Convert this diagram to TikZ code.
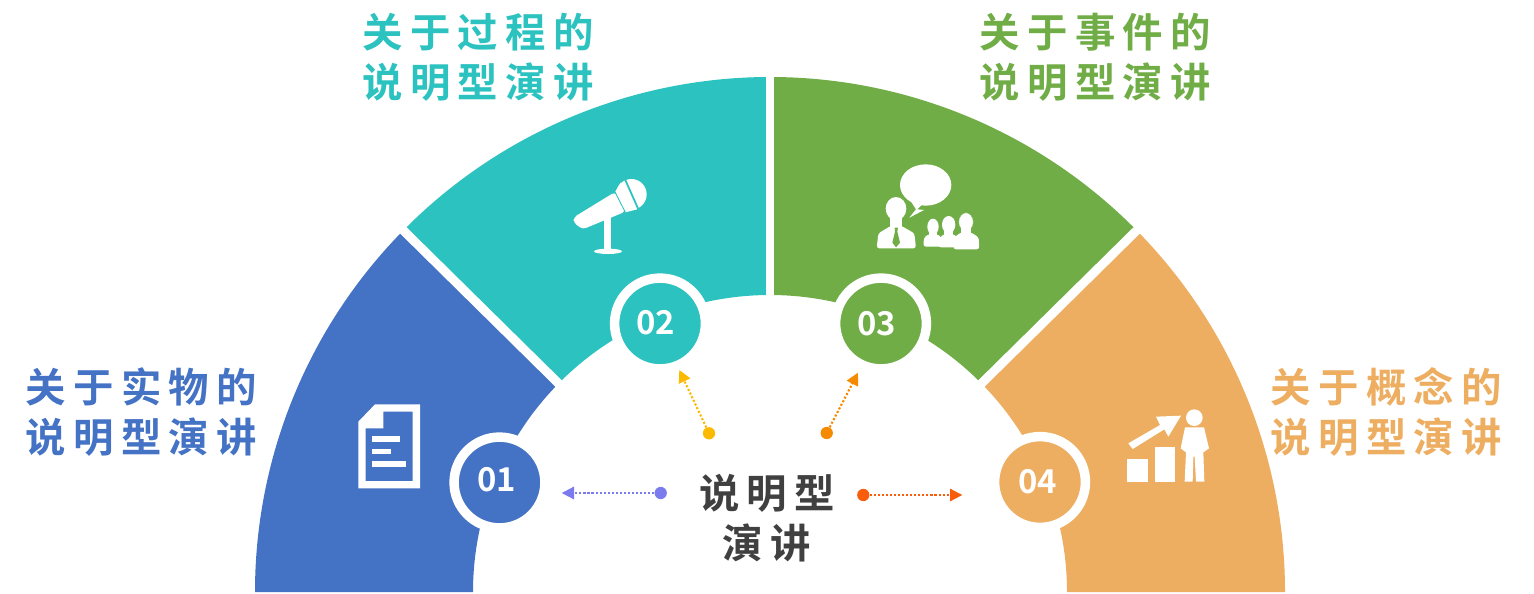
\documentclass[tikz,border=0pt]{standalone}
\usepackage{fontspec}
\usepackage{xcolor}
\usetikzlibrary{arrows.meta}
\newfontfamily\cjkwide[LetterSpace=18,BoldFont=*]{Noto Sans CJK SC Bold}
\newfontfamily\cjknum{Noto Sans CJK SC Bold}
\definecolor{partblue}{HTML}{4472C4}
\definecolor{partteal}{HTML}{2CC2BF}
\definecolor{partgreen}{HTML}{70AD47}
\definecolor{partorange}{HTML}{EDAE61}
\definecolor{dotviolet}{HTML}{7B7BEE}
\definecolor{dotyellow}{HTML}{FBB900}
\definecolor{dotorange}{HTML}{F58A00}
\definecolor{dotred}{HTML}{F95C0A}
\definecolor{titlegray}{HTML}{404040}
\tikzset{
	parttext/.style={align=center,inner sep=0pt,font=\fontsize{23pt}{28.45pt}\selectfont\cjkwide},
	numdisc/.style={circle,draw=white,line width=5.4pt,minimum size=51.7pt,inner sep=0pt,text=white,font=\fontsize{18.7pt}{22pt}\selectfont\cjknum},
	startdot/.style={circle,minimum size=7pt,inner sep=0pt},
	pointer/.style={dash pattern=on 1.2pt off 1.1pt,line width=1.2pt,-{Triangle[length=7pt,width=7pt]}},
	gapline/.style={white,line width=5.1pt},
	zoomed/.style={x=0.00667cm,y=-0.00667cm}
}
\begin{document}
\begin{tikzpicture}[x=0.02cm,y=0.02cm]
	\useasboundingbox (0,0) rectangle (1534,593);

	%four parts of the half ring
	\begin{scope}[shift={(770,1)}]
		\fill[partblue] (180:515) arc[start angle=180,end angle=135.4,radius=515] -- (135.4:297) arc[start angle=135.4,end angle=180,radius=297] -- cycle;
		\fill[partteal] (135.4:515) arc[start angle=135.4,end angle=90,radius=515] -- (90:297) arc[start angle=90,end angle=135.4,radius=297] -- cycle;
		\fill[partgreen] (90:515) arc[start angle=90,end angle=44.6,radius=515] -- (44.6:297) arc[start angle=44.6,end angle=90,radius=297] -- cycle;
		\fill[partorange] (44.6:515) arc[start angle=44.6,end angle=0,radius=515] -- (0:297) arc[start angle=0,end angle=44.6,radius=297] -- cycle;
		\draw[gapline] (135.4:280)--(135.4:530);
		\draw[gapline] (90:280)--(90:530);
		\draw[gapline] (44.6:280)--(44.6:530);
	\end{scope}

	%labels
	\node[parttext,text=partblue] (labelone) at (141.5,181) {关于实物的\\说明型演讲};
	\node[parttext,text=partteal] (labeltwo) at (478,535.5) {关于过程的\\说明型演讲};
	\node[parttext,text=partgreen] (labelthree) at (1095.5,535.5) {关于事件的\\说明型演讲};
	\node[parttext,text=partorange] (labelfour) at (1386.5,181) {关于概念的\\说明型演讲};

	%number discs
	\node[numdisc,fill=partblue] (numone) at (499.5,110.5) {\raisebox{3pt}{01}\kern3.4pt};
	\node[numdisc,fill=partteal] (numtwo) at (660,269.5) {\raisebox{1pt}{02}\kern4.6pt};
	\node[numdisc,fill=partgreen] (numthree) at (881,269.5) {03\kern4.6pt};
	\node[numdisc,fill=partorange] (numfour) at (1040,111) {04\kern2.8pt};

	%middle title
	\node[parttext,text=titlegray] (title) at (767,75) {说明型\\演讲};

	%dots and pointers
	\node[startdot,fill=dotviolet] (dotone) at (660.7,100) {};
	\node[startdot,fill=dotyellow] (dottwo) at (709,159.7) {};
	\node[startdot,fill=dotorange] (dotthree) at (826.7,160) {};
	\node[startdot,fill=dotred] (dotfour) at (863.3,98) {};
	\coordinate (tipone) at (561.7,100);
	\coordinate (tiptwo) at (679.3,223);
	\coordinate (tipthree) at (858,220.3);
	\coordinate (tipfour) at (962.3,98);
	\draw[pointer,dotviolet] (dotone)--(tipone);
	\draw[pointer,dotyellow] (dottwo)--(tiptwo);
	\draw[pointer,dotorange] (dotthree)--(tipthree);
	\draw[pointer,dotred] (dotfour)--(tipfour);

	%document
	\begin{scope}[shift={(340,203)},zoomed]
		\fill[white,even odd rule] (55,95)--(105,43)--(240,43)--(240,295)--(55,295)--cycle
			(77,115)--(130,115)--(130,65)--(218,65)--(218,273)--(77,273)--cycle;
		\fill[white] (95,138) rectangle (180,157);
		\fill[white] (95,177) rectangle (153,192);
		\fill[white] (95,213) rectangle (198,232);
	\end{scope}

	%microphone
	\begin{scope}[shift={(550,433)},zoomed]
		\fill[white] (162,175) rectangle (183,272);
		\fill[white] (174,274) ellipse[x radius=42,y radius=8];
		\fill[white,rounded corners=2pt] (71,172)--(195,96)--(226,155)--(98,208)--(71,188)--cycle;
		\fill[white] (244,103) circle[radius=46];
		\fill[white] (195,96)--(212,68)--(262,148)--(226,157)--cycle;
		\draw[partteal,line width=0.5pt] (194,94)--(226,157);
		\draw[partteal,line width=1pt] (226,60)--(266,150);
	\end{scope}

	%speaker and audience
	\begin{scope}[shift={(860,443)},zoomed]
		\fill[white] (197,105) ellipse[x radius=77,y radius=62];
		\fill[white] (150,150)--(168,178)--(148,203)--(192,180)--(172,178)--(190,160)--cycle;
		\fill[white] (108,176) ellipse[x radius=31,y radius=35];
		\fill[white] (90,195) rectangle (127,235);
		\fill[white,rounded corners=1.5pt] (50,295)--(55,250)--(92,228)--(125,228)--(163,250)--(168,295)--cycle;
		\fill[partgreen] (104,233)--(114,233)--(112,245)--(120,278)--(108,292)--(97,278)--(105,245)--cycle;
		\fill[white] (219,230) ellipse[x radius=17,y radius=24];
		\fill[white] (206,240) rectangle (232,262);
		\fill[white,rounded corners=1.5pt] (190,290)--(192,262)--(208,252)--(230,252)--(245,262)--(250,290)--cycle;
		\fill[white] (266,224) ellipse[x radius=20,y radius=26];
		\fill[white] (252,235) rectangle (280,258);
		\fill[white,rounded corners=1.5pt] (235,292)--(240,262)--(252,252)--(280,252)--(292,262)--(295,292)--cycle;
		\filldraw[fill=white,draw=partgreen,line width=0.3pt] (318,216) ellipse[x radius=22,y radius=28];
		\fill[white] (303,230) rectangle (333,255);
		\fill[white,rounded corners=1.5pt] (280,298)--(283,262)--(303,247)--(333,247)--(356,262)--(358,298)--cycle;
	\end{scope}

	%person and growth
	\begin{scope}[shift={(1110,198)},zoomed]
		\fill[white] (52,193) rectangle (113,260);
		\fill[white] (135,157) rectangle (195,260);
		\fill[white] (55,145)--(150,90)--(138,65)--(213,62)--(175,125)--(163,103)--(68,162)--cycle;
		\fill[white] (253,68) circle[radius=25];
		\fill[white] (225,97)--(282,97)--(297,160)--(280,172)--(283,260)--(258,260)--(254,185)--(250,185)--(248,260)--(224,260)--(228,172)--(212,160)--cycle;
	\end{scope}
\end{tikzpicture}
\end{document}
